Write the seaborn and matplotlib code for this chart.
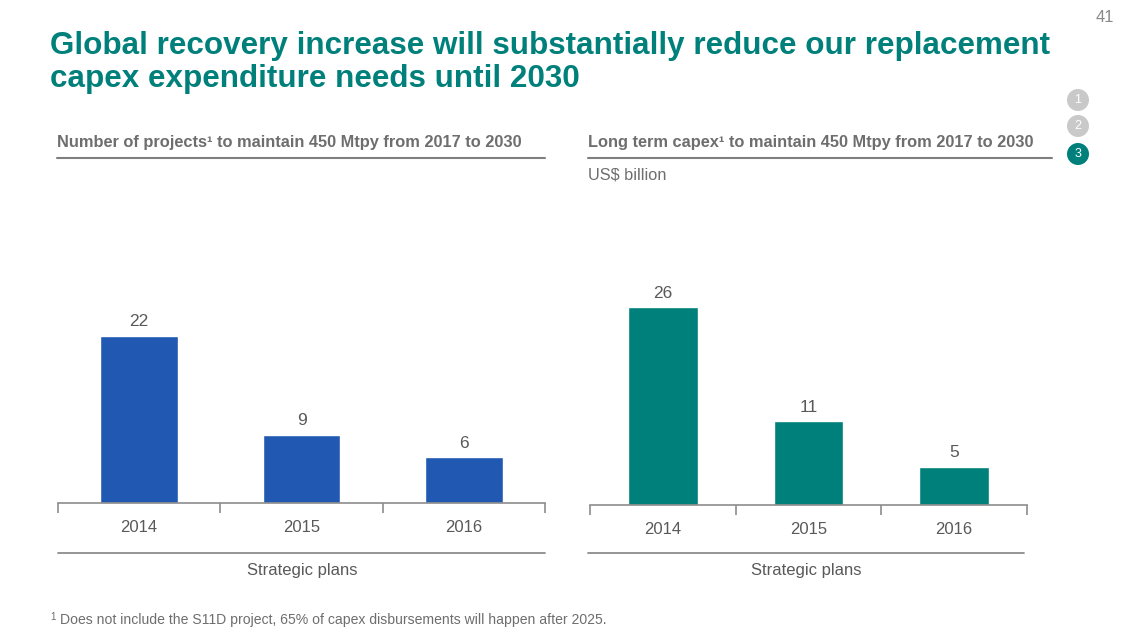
import seaborn as sns
import matplotlib.pyplot as plt
import pandas as pd
from matplotlib.patches import Circle
from matplotlib.lines import Line2D

# data
years = ["2014", "2015", "2016"]
projects = [22, 9, 6]
capex = [26, 11, 5]

TEAL = "#00807A"
BLUE = "#2159B2"
GRAY = "#6E6E6E"
DARK = "#595959"

sns.set_theme(style="white")
plt.rcParams['font.family'] = ['Liberation Sans', 'DejaVu Sans']

W, H = 1128, 635
fig = plt.figure(figsize=(W / 100, H / 100), dpi=100)


def px(x, y):
    # pixel coords -> figure fraction
    return x / W, 1 - y / H


def draw_panel(left, right, base, values, color):
    x0, y0 = px(left, base)
    ax = fig.add_axes([x0, y0, (right - left) / W, 304 / H])
    df = pd.DataFrame({"year": years, "value": values})
    sns.barplot(data=df, x="year", y="value", color=color, width=0.48,
                saturation=1, ax=ax)
    ax.set_xlim(-0.5, 2.5)
    ax.set_ylim(0, 40)
    for sp in ["top", "right", "left"]:
        ax.spines[sp].set_visible(False)
    ax.spines["bottom"].set_color("#8C8C8C")
    ax.spines["bottom"].set_linewidth(1.2)
    ax.set_yticks([])
    ax.set_xlabel("")
    ax.set_ylabel("")
    ax.set_xticks([0, 1, 2])
    ax.set_xticklabels(years, fontsize=12, color=DARK)
    ax.tick_params(axis="x", length=0, pad=12)
    # boundary ticks
    ax.set_xticks([-0.5, 0.5, 1.5, 2.5], minor=True)
    ax.tick_params(axis="x", which="minor", bottom=True, length=7, width=1.2,
                   color="#8C8C8C", direction="out")
    for i, v in enumerate(values):
        ax.text(i, v + 0.9, str(v), ha="center", va="bottom",
                fontsize=12.5, color=DARK)
    return ax


draw_panel(58, 545, 503, projects, BLUE)
draw_panel(590, 1027, 505, capex, TEAL)


def hline(x1, x2, y, lw=1.5, color="#7F7F7F"):
    a, b = px(x1, y)
    c, d = px(x2, y)
    fig.add_artist(Line2D([a, c], [b, d], color=color, lw=lw,
                          transform=fig.transFigure))


def text(x, y, s, **kw):
    fx, fy = px(x, y)
    fig.text(fx, fy, s, **kw)


# title
text(50, 46, "Global recovery increase will substantially reduce our replacement",
     fontsize=22.6, fontweight="bold", color=TEAL, va="center")
text(50, 79, "capex expenditure needs until 2030",
     fontsize=22.6, fontweight="bold", color=TEAL, va="center")
text(1114, 17, "41", fontsize=12, color="#8A8A8A", ha="right", va="center")

# panel headers
text(57, 143, "Number of projects\u00b9 to maintain 450 Mtpy from 2017 to 2030",
     fontsize=11.8, fontweight="bold", color=GRAY, va="center")
hline(57, 545, 158)
text(588, 143, "Long term capex\u00b9 to maintain 450 Mtpy from 2017 to 2030",
     fontsize=11.8, fontweight="bold", color=GRAY, va="center")
hline(588, 1052, 158)
text(588, 175, "US$ billion", fontsize=11.8, color=GRAY, va="center")

# bottom group labels
hline(58, 545, 553, lw=1.3, color="#8C8C8C")
text(302, 570, "Strategic plans", fontsize=12, color=DARK, ha="center", va="center")
hline(588, 1024, 553, lw=1.3, color="#8C8C8C")
text(806, 570, "Strategic plans", fontsize=12, color=DARK, ha="center", va="center")

# footnote
text(50, 617, "1", fontsize=7, color=GRAY, va="center")
text(60, 620, "Does not include the S11D project, 65% of capex disbursements will happen after 2025.",
     fontsize=10.1, color=GRAY, va="center")

# section markers
for i, (y, col) in enumerate([(100, "#C9C9C9"), (126, "#C9C9C9"), (154, TEAL)]):
    circ = Circle((1078, H - y), 11, facecolor=col, edgecolor="none",
                  transform=None)
    fig.patches.append(circ)
    circ.set_figure(fig)
    text(1078, y, str(i + 1), fontsize=9, color="white", ha="center", va="center")

fig.savefig("out.png", dpi=100)
